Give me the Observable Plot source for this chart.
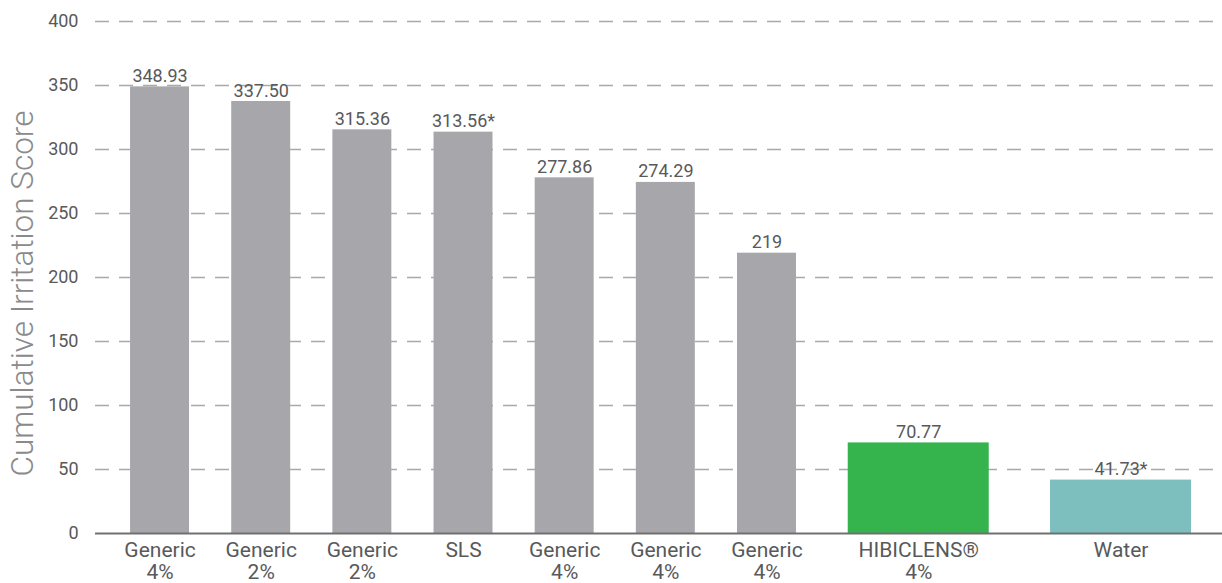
<!DOCTYPE html>
<html>
<head>
<meta charset="utf-8">
<script src="https://cdn.jsdelivr.net/npm/d3@7"></script>
<script src="https://cdn.jsdelivr.net/npm/@observablehq/plot@0.6"></script>
<style>
  html, body { margin: 0; padding: 0; background: #fff; }
  #chart { width: 1222px; height: 583px; overflow: hidden; }
</style>
</head>
<body>
<div id="chart"></div>
<script>
// ---- data ----
const categories = ["Generic\n4%", "Generic\n2%", "Generic\n2%", "SLS", "Generic\n4%", "Generic\n4%", "Generic\n4%", "HIBICLENS®\n4%", "Water"];
const values = [348.93, 337.50, 315.36, 313.56, 277.86, 274.29, 219, 70.77, 41.73];
const valueLabels = ["348.93", "337.50", "315.36", "313.56*", "277.86", "274.29", "219", "70.77", "41.73*"];
const groups = ["comparator", "comparator", "comparator", "comparator", "comparator", "comparator", "comparator", "hibiclens", "water"];
const yTicks = [0, 50, 100, 150, 200, 250, 300, 350, 400];

// ---- layout (slot units on a hidden linear x scale) ----
const slotOf = {comparator: null, hibiclens: 7.5, water: 9.5};
const widthOf = {comparator: 0.583, hibiclens: 1.394, water: 1.394};
const colorOf = {comparator: "#a7a6ab", hibiclens: "#35b44e", water: "#7dbfbf"};

const rows = categories.map((c, i) => {
  const g = groups[i];
  const s = slotOf[g] === null ? i : slotOf[g];
  return {label: c, value: values[i], text: valueLabels[i], group: g, s, w: widthOf[g]};
});

const textColor = "#58595b";

const chart = Plot.plot({
  width: 1222,
  height: 583,
  marginLeft: 95,
  marginRight: 0,
  marginTop: 21,
  marginBottom: 50,
  style: {fontFamily: "Roboto, 'Open Sans', sans-serif", fontSize: "18px", color: textColor, background: "#fff", overflow: "visible"},
  x: {domain: [-0.638, 10.503], axis: null},
  y: {domain: [0, 400], ticks: yTicks, tickSize: 0, tickPadding: 17, label: null},
  color: {domain: Object.keys(colorOf), range: Object.values(colorOf)},
  marks: [
    Plot.ruleY(yTicks.filter(t => t > 0), {stroke: "#a9a9a9", strokeWidth: 1.6, strokeDasharray: "14,10"}),
    Plot.rectY(rows, {x1: d => d.s - d.w / 2, x2: d => d.s + d.w / 2, y1: 0, y2: "value", fill: "group"}),
    Plot.ruleY([0], {stroke: "#707073", strokeWidth: 2}),
    Plot.text(rows, {x: "s", y: "value", text: "text", dy: -5, lineAnchor: "bottom", fill: textColor, fontSize: 18}),
    Plot.text(rows, {x: "s", y: 0, text: "label", dy: 8, lineAnchor: "top", lineHeight: 1.05, fill: textColor, fontSize: 21}),
    Plot.text(["Cumulative Irritation Score"], {frameAnchor: "left", textAnchor: "middle", rotate: -90, dx: -73, dy: 16, fill: "#8a8a8d", fontSize: 31.5, fontWeight: 300})
  ]
});
document.getElementById("chart").appendChild(chart);
</script>
</body>
</html>
